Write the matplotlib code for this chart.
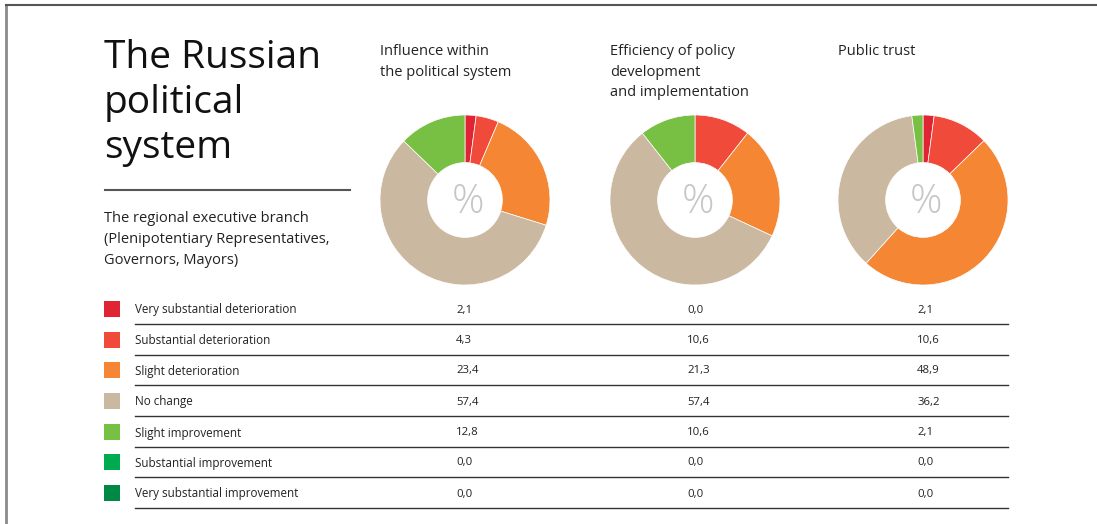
import matplotlib
matplotlib.use('Agg')
import matplotlib.pyplot as plt

plt.rcParams['font.family'] = ['Open Sans', 'DejaVu Sans']

W, H = 1097, 524

# data
categories = ['Very substantial deterioration', 'Substantial deterioration',
              'Slight deterioration', 'No change', 'Slight improvement',
              'Substantial improvement', 'Very substantial improvement']
colors = ['#E12433', '#F04A3A', '#F48634', '#CBB8A1', '#77C043', '#00AB4F', '#008845']
title_lines = ['The Russian', 'political', 'system']
subtitle_lines = ['The regional executive branch', '(Plenipotentiary Representatives,',
                  'Governors, Mayors)']
pie_titles = [['Influence within', 'the political system'],
              ['Efficiency of policy', 'development', 'and implementation'],
              ['Public trust']]
influence = [2.1, 4.3, 23.4, 57.4, 12.8, 0.0, 0.0]
efficiency = [0.0, 10.6, 21.3, 57.4, 10.6, 0.0, 0.0]
trust = [2.1, 10.6, 48.9, 36.2, 2.1, 0.0, 0.0]
series = [influence, efficiency, trust]

fig = plt.figure(figsize=(W / 100, H / 100), dpi=100)
ax = fig.add_axes([0, 0, 1, 1])
ax.set_xlim(0, W)
ax.set_ylim(H, 0)
ax.axis('off')

# frame
ax.plot([6, 6], [5, H], color='#8a8a8a', lw=2)
ax.plot([6, W], [5, 5], color='#555555', lw=1.5)

# title block
for k, line in enumerate(title_lines):
    ax.text(104, 68 + 45 * k, line, fontsize=28, va='baseline', ha='left', color='#111111')
ax.plot([105, 350], [190, 190], color='#555555', lw=1.5)
for k, line in enumerate(subtitle_lines):
    ax.text(104, 222 + 21 * k, line, fontsize=10.5, va='baseline', ha='left', color='#222222')

# donuts
centers_x = [465, 695, 923]
cy = 200
r = 85
col_x = [456, 687, 917]
for i, vals in enumerate(series):
    cx = centers_x[i]
    pax = fig.add_axes([(cx - r) / W, 1 - (cy + r) / H, 2 * r / W, 2 * r / H])
    nz = [(v, c) for v, c in zip(vals, colors) if v > 0]
    pax.pie([v for v, c in nz], colors=[c for v, c in nz], startangle=90, counterclock=False,
            radius=1, wedgeprops=dict(width=0.56, edgecolor='white', linewidth=0.5))
    pax.set_xlim(-1, 1)
    pax.set_ylim(-1, 1)
    pax.set_aspect('equal')
    pax.text(0.03, -0.03, '%', fontsize=29, fontweight='light', color='#C6C6C6',
             ha='center', va='center')
    for k, line in enumerate(pie_titles[i]):
        ax.text(cx - 85, 55 + 20.5 * k, line, fontsize=10.5, va='baseline', ha='left',
                color='#222222')

# table
row_y = [310, 341, 371, 402, 433, 463, 494]
for j, cat in enumerate(categories):
    y = row_y[j]
    ax.add_patch(plt.Rectangle((104, y - 9), 16, 16, color=colors[j], lw=0))
    ax.text(135, y, cat, fontsize=8.4, va='center', ha='left', color='#222222')
    for i, vals in enumerate(series):
        ax.text(col_x[i], y, ('%.1f' % vals[j]).replace('.', ','), fontsize=8.2,
                va='center', ha='left', color='#222222')
    ax.plot([135, 1008], [y + 13.5, y + 13.5], color='#333333', lw=1)

plt.savefig('out.png', dpi=100)
